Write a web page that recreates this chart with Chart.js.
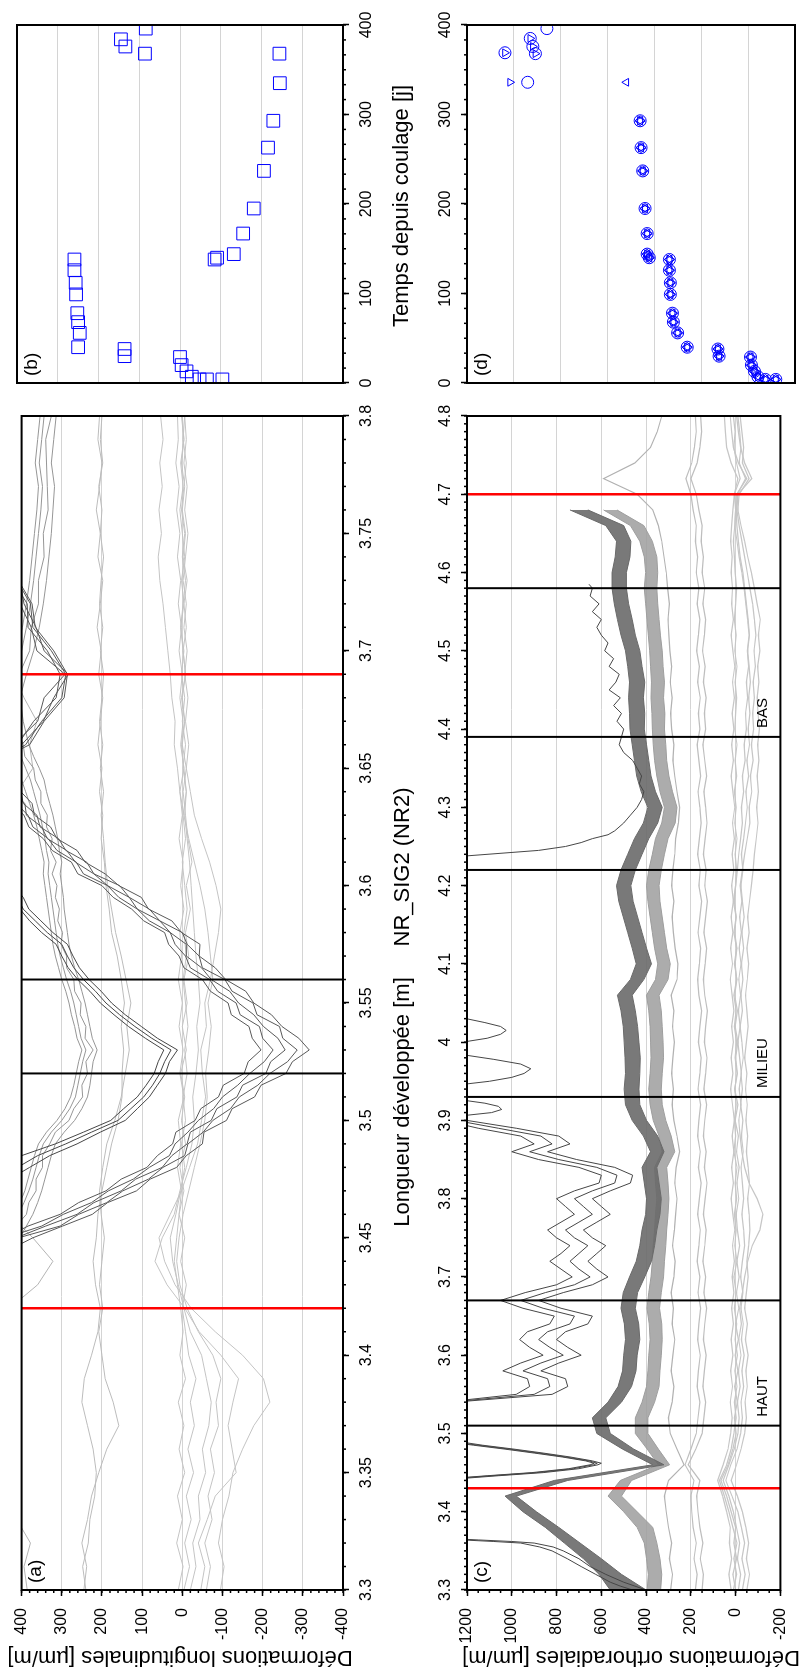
<!DOCTYPE html>
<html>
<head>
<meta charset="utf-8">
<script src="https://cdn.jsdelivr.net/npm/chart.js@4.4.0/dist/chart.umd.min.js"></script>
<style>
  html, body { margin: 0; padding: 0; background: #fff; }
  body { width: 802px; height: 1675px; overflow: hidden; position: relative; }
  #fig {
    position: absolute; left: 0; top: 0; width: 1675px; height: 802px;
    transform-origin: 0 0; transform: translateY(1675px) rotate(-90deg);
    font-family: 'Liberation Sans', Arial, Helvetica, sans-serif; color: #000;
  }
  #fig canvas { position: absolute; left: 0; top: 0; }
  .t { position: absolute; white-space: nowrap; font-size: 22px; transform: translate(-50%, -50%); }
  .ty { transform: translate(-50%, -50%) rotate(-90deg); }
</style>
</head>
<body>
<div id="fig">
  <canvas id="panelA" width="1675" height="802"></canvas>
  <canvas id="panelB" width="1675" height="802"></canvas>
  <canvas id="panelC" width="1675" height="802"></canvas>
  <canvas id="panelD" width="1675" height="802"></canvas>
  <div class="t ty" style="left:17px; top:180px;">Déformations longitudinales [µm/m]</div>
  <div class="t ty" style="left:17px; top:631px;">Déformations orthoradiales [µm/m]</div>
  <div class="t" style="left:573px; top:402px;">Longueur développée [m]</div>
  <div class="t" style="left:808px; top:402px;">NR_SIG2 (NR2)</div>
  <div class="t" style="left:1469px; top:401px;">Temps depuis coulage [j]</div>
</div>
<script>
// ---- tick labels ----
const ticksLenA = [3.3, 3.35, 3.4, 3.45, 3.5, 3.55, 3.6, 3.65, 3.7, 3.75, 3.8];
const ticksLenC = [3.3, 3.4, 3.5, 3.6, 3.7, 3.8, 3.9, 4.0, 4.1, 4.2, 4.3, 4.4, 4.5, 4.6, 4.7, 4.8];
const ticksDefA = [-400, -300, -200, -100, 0, 100, 200, 300, 400];
const ticksDefC = [-200, 0, 200, 400, 600, 800, 1000, 1200];
const ticksTime = [0, 100, 200, 300, 400];

// section markers
const markBlackA = [3.52, 3.56];
const markRedA = [3.42, 3.69];
const markBlackC = [3.51, 3.67, 3.93, 4.22, 4.39, 4.58];
const markRedC = [3.43, 4.70];
const sectionNames = ['HAUT', 'MILIEU', 'BAS'];
const sectionStart = [3.52, 3.94, 4.40];

// ---- panel (a): longitudinal strains ----
const lenA = [3.30,3.31,3.32,3.33,3.34,3.35,3.36,3.37,3.38,3.39,
  3.40,3.41,3.42,3.43,3.44,3.45,3.46,3.47,3.48,3.49,
  3.50,3.51,3.52,3.53,3.54,3.55,3.56,3.57,3.58,3.59,
  3.60,3.61,3.62,3.63,3.64,3.65,3.66,3.67,3.68,3.69,
  3.70,3.71,3.72,3.73,3.74,3.75,3.76,3.77,3.78,3.79,
  3.80];
const lgA1 = [245,238,250,236,226,208,188,158,172,192,
  200,208,198,206,200,194,202,206,198,188,
  168,152,142,132,138,128,140,152,166,176,
  186,192,196,202,196,204,198,206,200,196,
  204,198,206,202,196,204,200,208,198,204,
  200];
const lgA2 = [240,248,234,230,218,214,222,236,250,244,
  226,210,204,216,222,214,210,200,188,176,
  160,150,150,146,152,144,152,162,176,182,
  190,194,202,198,206,200,210,204,198,208,
  202,212,204,198,210,204,214,206,200,210,
  206];
const lgA3 = [386,394,378,412,440,440,440,440,440,440,
  440,440,430,360,322,372,430,440,440,440,
  440,440,440,440,440,440,440,440,440,440,
  440,440,440,440,410,372,380,362,394,420,
  440,440,440,440,440,440,440,440,440,440,
  440];
const lzA1 = [-95,-104,-90,-100,-116,-126,-150,-178,-218,-202,
  -150,-82,-22,18,44,58,30,2,-18,-38,
  -48,-58,-50,-46,-60,-56,-70,-80,-90,-96,
  -84,-68,-48,-30,-20,-10,-16,-8,-14,-6,
  -12,-4,-10,-2,-8,-14,-6,-12,-4,-10,
  -6];
const lzA2 = [-46,-56,-40,-62,-82,-134,-124,-114,-126,-140,
  -96,-42,-6,38,68,50,20,6,-10,-24,
  -30,-26,-34,-40,-36,-44,-40,-34,-30,-26,
  -22,-18,-12,-6,-10,-2,-8,0,-6,2,
  -4,4,-2,-8,0,-6,2,-4,-10,-2,
  -6];
const lzA3 = [-20,-34,-26,-44,-40,-58,-50,-66,-72,-60,
  -48,-20,-4,10,24,30,16,4,-6,2,
  -8,-2,-12,-6,-14,-8,-2,-10,-4,-12,
  -6,0,-8,-2,-10,-4,2,-6,0,-8,
  -2,4,-4,2,-6,0,6,-2,4,-4,
  2];
const lzA4 = [-4,-18,-6,-22,-10,-28,-14,-30,-20,-34,
  -16,-8,0,-10,4,-6,8,-4,6,-8,
  2,-6,4,-10,0,-12,-4,-16,-8,-20,
  -10,-24,-14,-8,-2,-10,0,-6,2,-8,
  -2,-10,-4,-12,-2,-8,0,-6,2,-4,
  0];
const lzA5 = [10,-2,14,0,12,-6,8,-4,10,-8,
  6,-2,4,12,20,14,8,2,12,4,
  10,-4,6,-2,8,0,10,2,6,-4,
  4,-2,8,0,6,-4,4,-2,6,0,
  8,2,10,4,12,6,14,8,16,10,
  12];
const lzA6 = [-60,-70,-56,-74,-64,-80,-70,-90,-84,-96,
  -76,-40,-12,6,14,8,-2,-16,-30,-44,
  -56,-62,-58,-66,-72,-64,-76,-70,-64,-56,
  -44,-30,-16,-4,6,12,20,18,26,30,
  36,42,48,56,60,52,58,50,56,48,
  54];

const lenV = [3.440,3.445,3.450,3.455,3.460,3.465,3.470,3.475,3.480,3.485,
  3.490,3.495,3.500,3.505,3.510,3.515,3.520,3.525,3.530,3.535,
  3.540,3.545,3.550,3.555,3.560,3.565,3.570,3.575,3.580,3.585,
  3.590,3.595,3.600,3.605,3.610,3.615,3.620,3.625,3.630,3.635,
  3.640,3.645,3.650,3.655,3.660,3.670,3.680,3.690,3.700,3.710,
  3.720,3.730,3.740,3.750,3.760,3.770,3.780,3.790,3.800];
const mgA1 = [440,440,430,414,388,382,364,364,348,348,
  330,316,282,270,248,250,236,240,222,242,
  240,254,252,268,270,288,288,302,298,310,
  306,316,312,324,314,328,324,338,336,352,
  352,366,370,392,396,416,416,406,380,376,
  358,358,344,346,334,336,338,340,326];
const mgA2 = [440,440,440,425,408,394,382,372,364,356,
  346,326,300,280,266,260,254,248,240,252,
  258,264,270,278,288,296,304,310,314,318,
  322,326,330,334,332,338,342,348,354,362,
  370,378,390,402,416,430,440,420,400,388,
  378,370,364,358,352,348,356,350,344];
const mgA3 = [440,430,405,388,372,360,350,342,334,326,
  316,294,268,250,236,230,226,222,212,224,
  230,236,242,250,258,268,276,282,286,290,
  294,296,300,304,300,306,310,316,322,330,
  338,344,356,370,382,396,404,388,370,356,
  346,338,332,326,322,318,326,320,314];
const mgA4 = [440,440,440,440,420,404,392,384,376,368,
  358,338,312,292,278,270,264,258,250,262,
  268,276,282,290,300,308,316,322,326,330,
  334,338,342,346,344,350,356,362,370,380,
  390,400,414,430,440,440,440,430,412,398,
  388,380,374,368,362,358,366,360,354];
const ddA1 = [440,430,372,298,224,186,114,80,14,-10,
  -50,-54,-110,-124,-180,-196,-258,-274,-316,-290,
  -248,-222,-178,-158,-108,-82,-42,-44,2,26,
  84,102,158,192,242,262,312,328,368,374,
  402,414,440,440,420,360,344,292,362,376,
  404,414,440,440,440,440,440,440,440];
const ddA2 = [440,440,408,304,258,188,148,84,48,-6,
  -14,-52,-76,-120,-142,-188,-218,-262,-286,-250,
  -242,-186,-176,-124,-106,-50,-42,-12,0,56,
  82,132,156,220,238,290,308,354,362,396,
  402,436,440,440,410,370,314,304,336,384,
  386,422,440,440,440,440,440,440,440];
const ddA3 = [440,440,414,340,262,220,152,116,50,26,
  -12,-20,-72,-86,-136,-150,-208,-220,-256,-238,
  -202,-178,-140,-118,-72,-48,-10,-10,30,56,
  112,132,186,220,266,288,336,350,388,392,
  426,440,440,440,400,346,320,284,344,364,
  394,404,440,440,440,440,440,440,440];
const ddA4 = [440,440,440,350,296,226,184,122,82,32,
  18,-14,-40,-78,-100,-138,-168,-204,-226,-200,
  -192,-144,-134,-88,-68,-20,-8,18,30,82,
  112,158,186,246,264,312,334,372,384,414,
  440,440,440,440,390,350,300,290,326,372,
  378,412,440,440,440,440,440,440,440];
const ddA5 = [440,440,440,384,304,258,190,152,88,62,
  24,16,-32,-46,-90,-102,-154,-164,-196,-174,
  -166,-122,-114,-70,-50,-4,8,34,44,96,
  126,172,200,260,276,324,346,382,394,426,
  440,440,440,440,380,344,294,286,320,366,
  374,408,440,440,440,440,440,440,440];
const dmA1 = [440,440,440,440,440,440,440,430,380,330,
  262,204,142,112,82,62,42,32,12,62,
  102,142,176,202,232,256,272,286,322,352,
  382,396,420,440,440,440,440,440,440,440,
  440,440,440,440,440,440,440,440,440,440,
  440,440,440,440,440,440,440,440,440];
const dmA2 = [440,440,440,440,440,440,440,440,410,360,
  290,226,160,128,96,74,56,44,28,76,
  118,156,190,216,246,270,286,300,336,366,
  396,410,440,440,440,440,440,440,440,440,
  440,440,440,440,440,440,440,440,440,440,
  440,440,440,440,440,440,440,440,440];
const dmA3 = [440,440,440,440,440,440,440,440,440,400,
  316,246,178,146,112,90,70,60,46,92,
  134,170,204,230,260,284,300,314,350,380,
  404,430,440,440,440,440,440,440,440,440,
  440,440,440,440,440,440,440,440,440,440,
  440,440,440,440,440,440,440,440,440];

// ---- panel (b): strain at the section vs time ----
const sqTime = [4,4,4,7,13,20,29,30,38,40,56,68,78,99,112,126,138,138,140,144,167,195,237,263,293,335,368,368,376,384,396];
const sqStrain = [-104,-66,-48,-29,-16,-4,0,136,136,250,246,250,252,255,256,259,259,-85,-91,-132,-155,-181,-206,-216,-229,-245,-244,86,134,145,84];

// ---- panel (c): orthoradial strains ----
const lenC = [3.30,3.32,3.34,3.36,3.38,3.40,3.42,3.44,3.46,3.48,
  3.50,3.52,3.54,3.56,3.58,3.60,3.62,3.64,3.66,3.68,
  3.70,3.72,3.74,3.76,3.78,3.80,3.82,3.84,3.86,3.88,
  3.90,3.92,3.94,3.96,3.98,4.00,4.02,4.04,4.06,4.08,
  4.10,4.12,4.14,4.16,4.18,4.20,4.22,4.24,4.26,4.28,
  4.30,4.32,4.34,4.36,4.38,4.40,4.42,4.44,4.46,4.48,
  4.50,4.52,4.54,4.56,4.58,4.60,4.62,4.64,4.66,4.68,
  4.70,4.72,4.74,4.76,4.78,4.80];
const dgHiC = [560,610,680,765,850,950,1030,810,370,505,
  620,640,570,525,505,500,492,497,512,502,
  474,444,428,418,402,398,408,418,380,412,
  462,492,498,492,494,498,502,512,528,470,
  444,462,482,502,522,532,512,482,452,412,
  392,422,442,452,462,472,474,478,474,482,
  492,512,528,542,552,552,538,532,580,740,
  null,null,null,null,null,null];
const dgLoC = [400,510,600,695,790,890,980,750,320,455,
  560,580,510,465,445,440,428,433,448,438,
  406,376,362,352,338,332,342,352,320,348,
  398,428,432,428,426,432,438,448,462,410,
  376,398,418,438,458,468,448,418,388,348,
  328,358,378,388,398,408,406,412,406,418,
  428,448,462,478,488,488,472,468,500,660,
  null,null,null,null,null,null];
const mgHiC = [395,390,398,408,440,500,570,515,345,395,
  448,448,418,398,392,388,382,386,396,388,
  378,372,368,362,358,352,358,362,328,342,
  368,382,388,382,378,380,382,388,398,358,
  348,362,372,382,392,398,388,372,358,330,
  318,338,352,362,368,372,374,378,376,380,
  384,390,396,402,408,402,408,428,470,590,
  null,null,null,null,null,null];
const mgLoC = [335,330,338,352,370,440,510,465,295,345,
  392,392,362,342,338,332,328,330,340,332,
  322,318,312,308,302,298,302,308,272,288,
  312,328,332,328,322,324,328,332,342,302,
  292,308,318,328,338,342,332,318,302,270,
  262,282,298,308,312,318,316,322,318,324,
  328,336,342,348,352,348,352,372,410,530,
  null,null,null,null,null,null];
const lgC1 = [290,282,296,286,300,310,318,300,230,262,
  292,300,284,276,288,280,272,284,278,288,
  276,270,282,274,268,262,272,266,250,262,
  276,284,278,286,280,274,282,276,288,262,
  258,270,278,284,276,286,280,272,268,256,
  250,262,272,280,276,286,290,284,292,286,
  294,298,302,296,304,310,320,330,345,370,
  440,590,450,380,350,330];
const lgC2 = [180,172,186,176,190,196,200,186,226,200,
  176,168,160,172,166,158,170,164,156,168,
  160,172,164,158,170,162,154,166,158,170,
  164,156,168,160,154,166,160,152,164,170,
  162,156,168,160,152,164,158,170,162,154,
  160,168,156,164,172,160,166,158,170,162,
  174,166,160,172,164,176,170,180,176,190,
  200,222,196,184,176,180];
const lgC3 = [150,144,158,146,160,168,174,160,212,178,
  150,142,134,146,140,132,144,138,130,142,
  134,146,138,132,144,136,128,140,132,144,
  138,130,142,134,128,140,134,126,138,144,
  136,130,142,134,126,138,132,144,136,128,
  134,142,130,138,146,134,140,132,144,136,
  148,140,134,146,138,150,144,154,150,164,
  176,200,172,160,152,156];
const lzC1 = [10,-4,8,-6,12,30,50,72,40,20,
  8,-2,6,-6,4,-8,2,-4,6,-2,
  8,-6,4,-2,6,-4,2,-6,8,0,
  6,-2,4,-6,2,-4,6,-2,8,-4,
  2,-6,4,-2,6,0,-4,2,-6,4,
  -2,6,-4,2,-6,4,0,-4,2,-6,
  4,-2,6,0,-4,2,6,10,4,0,
  6,-20,-4,8,2,10];
const lzC2 = [-30,-42,-28,-40,-26,-10,16,44,22,-6,
  -22,-30,-24,-36,-28,-38,-26,-34,-24,-32,
  -22,-30,-40,-36,-28,-36,-30,-24,-34,-26,
  -32,-22,-30,-24,-34,-28,-20,-30,-24,-32,
  -26,-36,-28,-38,-30,-24,-32,-26,-36,-44,
  -52,-46,-58,-50,-62,-56,-64,-58,-66,-60,
  -54,-62,-56,-48,-40,-32,-20,-12,-6,-2,
  -8,-44,-16,-24,-18,-10];
const lzC3 = [-50,-62,-48,-58,-46,-30,-8,20,-4,-24,
  -40,-48,-42,-52,-46,-56,-44,-52,-40,-48,
  -56,-50,-58,-64,-60,-54,-62,-56,-48,-54,
  -46,-52,-44,-50,-40,-48,-56,-50,-44,-52,
  -58,-50,-60,-54,-62,-70,-78,-84,-92,-100,
  -94,-102,-96,-104,-98,-106,-100,-96,-104,-98,
  -108,-102,-110,-96,-84,-70,-54,-40,-24,-10,
  -16,-60,-30,-36,-28,-20];
const lzC4 = [20,30,18,28,24,40,58,80,56,34,
  22,16,24,14,22,12,20,10,18,8,
  16,6,14,4,12,20,10,18,8,16,
  6,14,22,12,20,10,18,8,16,24,
  14,22,12,20,10,18,8,16,6,14,
  4,12,20,10,18,8,16,6,14,4,
  12,20,10,18,14,20,16,22,18,12,
  6,-10,20,40,46,50];
const lzC5 = [-12,-22,-8,-18,-4,10,30,56,30,6,
  -10,-16,-8,-20,-12,-24,-14,-26,-18,-30,
  -40,-54,-74,-108,-122,-96,-60,-40,-28,-20,
  -14,-24,-16,-26,-18,-10,-20,-12,-22,-14,
  -24,-16,-26,-18,-28,-20,-30,-40,-52,-64,
  -60,-72,-66,-78,-70,-80,-76,-84,-78,-88,
  -82,-90,-84,-76,-64,-52,-40,-28,-16,-6,
  -10,-72,-40,-22,-12,-4];
const lzC6 = [0,12,-4,8,0,20,40,66,34,12,
  -2,6,-8,4,-10,2,-12,0,-14,-4,
  -16,-6,-18,-8,-2,-14,-6,-16,-4,-12,
  2,-10,4,-8,0,-10,2,-8,4,-6,
  6,-4,8,-2,10,0,-8,-14,-22,-30,
  -26,-36,-30,-42,-38,-48,-44,-54,-48,-58,
  -52,-60,-54,-46,-38,-28,-16,-6,4,0,
  -4,-50,-12,10,18,24];

// dark, high-strain lines (own abscissae)
const dk1Len = [3.300,3.305,3.310,3.320,3.330,3.340,3.350,3.355,3.360,3.362,3.364,3.366];
const dk1a = [400,450,500,580,650,700,770,815,900,1000,1150,1300];
const dk1b = [460,515,560,625,690,752,820,875,960,1080,1220,1350];
const dk2Len = [3.440,3.443,3.446,3.450,3.455,3.460,3.462,3.465,3.470,3.475,3.480,3.485,3.488,3.492];
const dk2a = [1300,1200,1060,860,700,615,600,640,740,860,990,1130,1200,1300];
const dk2b = [1300,1230,1090,890,725,635,618,655,760,880,1010,1150,1230,1320];
const dk2c = [1300,1250,1110,910,745,650,632,670,775,900,1030,1170,1250,1330];
const dk3Len = [3.54,3.55,3.56,3.57,3.58,3.59,3.60,3.61,3.62,3.63,3.64,3.65,3.66,3.67,3.68,3.69,3.70,3.71,3.72,3.73,
  3.74,3.75,3.76,3.77,3.78,3.79,3.80,3.81,3.82,3.83,3.84,3.85,3.86,3.87,3.88,3.89,3.90];
const dk3a = [1300,980,920,930,1040,960,860,920,965,930,830,810,950,1050,940,800,730,780,830,780,
  740,800,840,780,720,760,800,720,610,600,700,880,1000,900,960,1150,1300];
const dk3b = [1280,900,830,840,950,870,770,830,880,840,740,720,860,960,850,720,650,700,740,700,
  660,720,760,700,640,680,720,640,540,530,620,790,920,820,870,1060,1250];
const dk3c = [1260,820,750,760,870,790,690,750,800,760,660,640,780,880,770,640,570,620,660,620,
  580,640,680,620,560,600,640,560,470,460,540,710,840,740,790,980,1200];
const dk4Len = [3.906,3.910,3.914,3.918,3.922,3.926];
const dk4 = [1220,1090,1045,1060,1120,1220];
const dk5Len = [3.946,3.950,3.955,3.960,3.966,3.972,3.978,3.984];
const dk5 = [1220,1100,1000,945,915,960,1080,1220];
const dk6Len = [4.000,4.005,4.010,4.015,4.020,4.025,4.031];
const dk6 = [1220,1110,1050,1025,1050,1120,1220];
const dk7Len = [4.238,4.245,4.25,4.255,4.26,4.265,4.27,4.28,4.29,4.30,4.31,4.32,4.33,4.34,4.35,4.36,4.37,4.38,4.39,4.40,
  4.41,4.42,4.43,4.44,4.45,4.46,4.47,4.48,4.49,4.50,4.51,4.52,4.53,4.54,4.55,4.56,4.57,4.58,4.585];
const dk7 = [1200,880,760,690,640,570,540,500,470,440,420,410,430,420,440,460,500,520,510,500,
  530,510,545,515,565,535,520,565,545,585,570,600,620,600,640,610,650,640,655];

// ---- panel (d): strain vs time ----
const dClusterT = [4,4,7,13,20,29,30,38,40,56,68,78,99,112,126,138,140,144,167,195,237,263,293];
const dClusterV = [-118,-74,-42,-27,-14,-10,124,129,260,301,319,323,332,332,336,336,422,431,431,440,450,457,461];
const dCircT = [336,369,368,376,385,396];
const dCircV = [941,1038,908,919,930,859];
const dTriDownT = [336,369,368,376,385];
const dTriDownV = [1016,1038,908,919,930];
const dTriUpT = [336];
const dTriUpV = [520];

// ---------------------------------------------------------------
const FONT = "'Liberation Sans', Arial, Helvetica, sans-serif";
Chart.defaults.font.family = FONT;
Chart.defaults.font.size = 16;
Chart.defaults.color = '#000';

const zip = (xs, ys) => xs.map((x, i) => ({ x: x, y: ys[i] }));
const fmt = v => String(Math.round(v * 100) / 100);

function line(xs, ys, color, order, width) {
  return {
    type: 'line', data: zip(xs, ys), borderColor: color, borderWidth: width || 1,
    pointRadius: 0, fill: false, tension: 0, order: order, clip: 0, spanGaps: false
  };
}
function band(xs, hi, lo, color, fillColor, order) {
  const top = line(xs, hi, color, order, 1);
  const bot = line(xs, lo, color, order, 1);
  bot.fill = '-1';
  bot.backgroundColor = fillColor;
  return [top, bot];
}
function marks(xs, ys, style, radius, rotation) {
  return {
    data: zip(xs, ys), pointStyle: style, pointRadius: radius, pointRotation: rotation || 0,
    borderColor: '#0000ff', backgroundColor: 'rgba(0,0,0,0)', borderWidth: 1, clip: 0
  };
}

// frame, minor ticks, section markers, panel letter
const deco = {
  id: 'deco',
  afterDatasetsDraw(chart, args, o) {
    const { ctx, chartArea: a, scales: { x, y } } = chart;
    ctx.save();
    const vline = (v, color, w) => {
      const px = x.getPixelForValue(v);
      ctx.strokeStyle = color; ctx.lineWidth = w;
      ctx.beginPath(); ctx.moveTo(px, a.top); ctx.lineTo(px, a.bottom); ctx.stroke();
    };
    (o.black || []).forEach(v => vline(v, '#000', 2));
    (o.red || []).forEach(v => vline(v, '#ff0000', 2.5));
    if (o.names) {
      ctx.fillStyle = '#000'; ctx.font = '15px ' + FONT;
      ctx.textAlign = 'left'; ctx.textBaseline = 'middle';
      o.names.forEach((n, i) => ctx.fillText(n, x.getPixelForValue(o.starts[i]) + 1, y.getPixelForValue(o.level)));
    }
    ctx.strokeStyle = '#000'; ctx.lineWidth = 2;
    ctx.strokeRect(a.left, a.top, a.right - a.left, a.bottom - a.top);
    ctx.lineWidth = 1.5;
    if (o.minorX) {
      const top = x.position === 'top';
      for (let i = 0; ; i++) {
        const v = x.min + i * o.minorX;
        if (v > x.max + 1e-9) break;
        const px = x.getPixelForValue(v);
        ctx.beginPath();
        if (top) { ctx.moveTo(px, a.top); ctx.lineTo(px, a.top - 3); }
        else { ctx.moveTo(px, a.bottom); ctx.lineTo(px, a.bottom + 3); }
        ctx.stroke();
      }
    }
    if (o.minorY) {
      for (let i = 0; ; i++) {
        const v = y.min + i * o.minorY;
        if (v > y.max + 1e-9) break;
        const py = y.getPixelForValue(v);
        ctx.beginPath(); ctx.moveTo(a.left, py); ctx.lineTo(a.left - 3, py); ctx.stroke();
      }
    }
    ctx.fillStyle = '#000'; ctx.font = '19px ' + FONT;
    ctx.textAlign = 'left'; ctx.textBaseline = 'top';
    ctx.fillText(o.letter, a.left + 7, a.top + 5);
    ctx.restore();
  }
};

function xAxis(min, max, list, pos, pad) {
  return {
    type: 'linear', position: pos, min: min, max: max,
    afterBuildTicks: s => { s.ticks = list.map(v => ({ value: v })); },
    afterFit: s => { s.height = 40; },
    ticks: { callback: v => fmt(v), autoSkip: false, maxRotation: 0, minRotation: 0, padding: pad, font: { size: 16 } },
    grid: { drawOnChartArea: false, drawTicks: true, tickLength: 6, tickColor: '#000', tickWidth: 1.5 },
    border: { display: false }
  };
}
function yAxis(min, max, list, labelled) {
  return {
    type: 'linear', position: 'left', min: min, max: max,
    afterBuildTicks: s => { s.ticks = list.map(v => ({ value: v })); },
    afterFit: s => { s.width = labelled ? 60 : 0; },
    ticks: { display: labelled, callback: v => fmt(v), autoSkip: false, padding: 12, font: { size: 16 } },
    grid: { color: '#d4d4d4', lineWidth: 1, drawTicks: labelled, tickLength: 6, tickColor: '#000', tickWidth: 1.5 },
    border: { display: false }
  };
}
function baseOptions(padding, scales, deco) {
  return {
    responsive: false, animation: false, devicePixelRatio: 1, events: [],
    layout: { padding: padding, autoPadding: false },
    plugins: { legend: { display: false }, tooltip: { enabled: false }, deco: deco },
    scales: scales
  };
}

const LG = '#c4c4c4', MG = '#969696', DG = '#585858', DK = '#464646';

// panel (a)
new Chart(document.getElementById('panelA'), {
  type: 'line',
  data: {
    datasets: [
      line(lenV, dmA1, DK, 1), line(lenV, dmA2, DK, 1), line(lenV, dmA3, DK, 1),
      line(lenV, ddA1, DG, 1), line(lenV, ddA2, DG, 1), line(lenV, ddA3, DG, 1),
      line(lenV, ddA4, DG, 1), line(lenV, ddA5, DG, 1),
      line(lenV, mgA1, MG, 2), line(lenV, mgA2, MG, 2), line(lenV, mgA3, MG, 2), line(lenV, mgA4, MG, 2),
      line(lenA, lgA1, '#bcbcbc', 3), line(lenA, lgA2, '#bcbcbc', 3), line(lenA, lgA3, '#b4b4b4', 3),
      line(lenA, lzA1, LG, 3), line(lenA, lzA2, LG, 3), line(lenA, lzA3, LG, 3),
      line(lenA, lzA4, LG, 3), line(lenA, lzA5, LG, 3), line(lenA, lzA6, LG, 3)
    ]
  },
  options: baseOptions({ left: 25, right: 416, top: 17, bottom: 419 },
    { x: xAxis(3.3, 3.8, ticksLenA, 'bottom', 8), y: yAxis(-400, 400, ticksDefA, true) },
    { letter: '(a)', black: markBlackA, red: markRedA, minorX: 0.01, minorY: 20 }),
  plugins: [deco]
});

// panel (b)
new Chart(document.getElementById('panelB'), {
  type: 'scatter',
  data: { datasets: [marks(sqTime, sqStrain, 'rect', 9)] },
  options: baseOptions({ left: 1292, right: 25, top: 17, bottom: 419 },
    { x: xAxis(0, 400, ticksTime, 'bottom', 8), y: yAxis(-400, 400, ticksDefA, false) },
    { letter: '(b)', minorX: 100 / 6 }),
  plugins: [deco]
});

// panel (c)
new Chart(document.getElementById('panelC'), {
  type: 'line',
  data: {
    datasets: [
      line(dk1Len, dk1a, DK, 1), line(dk1Len, dk1b, DK, 1),
      line(dk2Len, dk2a, DK, 1), line(dk2Len, dk2b, DK, 1), line(dk2Len, dk2c, DK, 1),
      line(dk3Len, dk3a, DK, 1), line(dk3Len, dk3b, DK, 1), line(dk3Len, dk3c, DK, 1),
      line(dk4Len, dk4, DK, 1), line(dk5Len, dk5, DK, 1), line(dk6Len, dk6, DK, 1),
      line(dk7Len, dk7, DK, 1),
      ...band(lenC, dgHiC, dgLoC, '#6a6a6a', 'rgba(106,106,106,0.9)', 2),
      ...band(lenC, mgHiC, mgLoC, '#9e9e9e', 'rgba(158,158,158,0.85)', 3),
      line(lenC, lgC1, '#b2b2b2', 4, 1.2),
      line(lenC, lgC2, '#bebebe', 4, 1.2), line(lenC, lgC3, '#bebebe', 4, 1.2),
      line(lenC, lzC1, '#c6c6c6', 5, 1.2), line(lenC, lzC2, '#c6c6c6', 5, 1.2), line(lenC, lzC3, '#c6c6c6', 5, 1.2),
      line(lenC, lzC4, '#c6c6c6', 5, 1.2), line(lenC, lzC5, '#c6c6c6', 5, 1.2), line(lenC, lzC6, '#c6c6c6', 5, 1.2)
    ]
  },
  options: baseOptions({ left: 25, right: 416, top: 427, bottom: 7 },
    { x: xAxis(3.3, 4.8, ticksLenC, 'top', 6), y: yAxis(-200, 1200, ticksDefC, true) },
    { letter: '(c)', black: markBlackC, red: markRedC, minorX: 0.01, minorY: 50,
      names: sectionNames, starts: sectionStart, level: -120 }),
  plugins: [deco]
});

// panel (d)
new Chart(document.getElementById('panelD'), {
  type: 'scatter',
  data: {
    datasets: [
      marks(dClusterT, dClusterV, 'circle', 6),
      marks(dCircT, dCircV, 'circle', 6),
      marks(dClusterT, dClusterV, 'rectRot', 5),
      marks(dClusterT, dClusterV, 'triangle', 5, 180),
      marks(dTriDownT, dTriDownV, 'triangle', 4.5, 180),
      marks(dClusterT, dClusterV, 'triangle', 5),
      marks(dTriUpT, dTriUpV, 'triangle', 4.5)
    ]
  },
  options: baseOptions({ left: 1292, right: 25, top: 427, bottom: 7 },
    { x: xAxis(0, 400, ticksTime, 'top', 6), y: yAxis(-200, 1200, ticksDefC, false) },
    { letter: '(d)', minorX: 100 / 6 }),
  plugins: [deco]
});
</script>
</body>
</html>
